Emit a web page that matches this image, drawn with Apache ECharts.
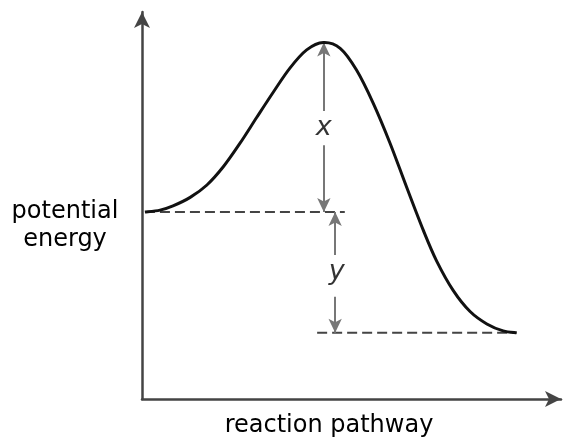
<!DOCTYPE html>
<html><head><meta charset="utf-8">
<script src="https://cdn.jsdelivr.net/npm/echarts@6/dist/echarts.min.js"></script>
<style>html,body{margin:0;padding:0;background:#fff}#c{width:563px;height:441px}</style>
</head><body><div id="c"></div>
<script>
// Reaction coordinate (0-100) and potential energy (0-100), arbitrary units
const pathway = [0.7, 4.3, 7.4, 11.5, 15.5, 19.4, 23.4, 27.4, 31.4, 35.3, 39.3, 43.3, 47.3, 51.2, 55.2, 59.2, 63.1, 67.1, 70.3, 74.3, 78.3, 82.3, 86.2, 89.4];
const energy  = [48.3, 48.8, 49.9, 52.1, 55.3, 60.0, 66.1, 72.8, 79.4, 85.5, 90.2, 92.1, 90.6, 85.0, 76.4, 66.1, 54.9, 43.7, 35.7, 28.0, 22.6, 19.4, 17.6, 17.1];
const reactantLevel = 48.3;
const productLevel = 17.1;
const peakLevel = 92.1;
const peakX = 43.4;
const yArrowX = 46.1;
const reactantDashEnd = 48.4;
const productDashStart = 41.8;
const labels = { x: 'x', y: 'y' };
const labelX = [43.4, 70.0];
const labelY = [46.5, 32.8];
const gapX = [65.6, 74.4];
const gapY = [26.4, 37.2];

const chart = echarts.init(document.getElementById('c'), null, {renderer: 'canvas'});
const axisColor = '#444';
const arrowColor = '#777';
const curve = pathway.map((x, i) => [x, energy[i]]);
const font = 'DejaVu Sans';

// Smooth Catmull-Rom path through the data, positioned by the chart's own axes
function renderCurve(params, api) {
  if (params.dataIndex !== 0) return null;
  const p = curve.map(d => api.coord(d));
  let d = 'M' + p[0][0] + ' ' + p[0][1];
  for (let i = 0; i < p.length - 1; i++) {
    const p0 = p[Math.max(i - 1, 0)], p1 = p[i], p2 = p[i + 1], p3 = p[Math.min(i + 2, p.length - 1)];
    const c1x = p1[0] + (p2[0] - p0[0]) / 6, c1y = p1[1] + (p2[1] - p0[1]) / 6;
    const c2x = p2[0] - (p3[0] - p1[0]) / 6, c2y = p2[1] - (p3[1] - p1[1]) / 6;
    d += ' C' + c1x + ' ' + c1y + ' ' + c2x + ' ' + c2y + ' ' + p2[0] + ' ' + p2[1];
  }
  return {type: 'path', shape: {pathData: d}, style: {fill: 'none', stroke: '#111', lineWidth: 3}};
}

chart.setOption({
  animation: false,
  grid: {left: 142, right: 2, top: 12, bottom: 42},
  xAxis: {
    type: 'value', min: 0, max: 100,
    axisLine: {show: true, lineStyle: {color: axisColor, width: 2.5}, symbol: ['none', 'arrow'], symbolSize: [12, 16]},
    axisTick: {show: false}, axisLabel: {show: false}, splitLine: {show: false}
  },
  yAxis: {
    type: 'value', min: 0, max: 100,
    axisLine: {show: true, lineStyle: {color: axisColor, width: 2.5}, symbol: ['none', 'arrow'], symbolSize: [12, 16]},
    axisTick: {show: false}, axisLabel: {show: false}, splitLine: {show: false}
  },
  series: [
    {
      type: 'custom', data: curve, renderItem: renderCurve, silent: true, z: 5,
      encode: {x: 0, y: 1}
    },
    {
      type: 'line', data: [[pathway[0], reactantLevel], [reactantDashEnd, reactantLevel]], showSymbol: false,
      lineStyle: {color: '#444', width: 2, type: [10, 5]}
    },
    {
      type: 'line', data: [[productDashStart, productLevel], [pathway[pathway.length - 1], productLevel]], showSymbol: false,
      lineStyle: {color: '#444', width: 2, type: [10, 5]}
    },
    {
      type: 'scatter', data: [], silent: true,
      markLine: {
        silent: true, symbol: ['none', 'arrow'], symbolSize: [10, 14],
        label: {show: false},
        lineStyle: {color: arrowColor, width: 2, type: 'solid'},
        data: [
          [{coord: [peakX, gapX[1]]}, {coord: [peakX, peakLevel]}],
          [{coord: [peakX, gapX[0]]}, {coord: [peakX, reactantLevel]}],
          [{coord: [yArrowX, gapY[1]]}, {coord: [yArrowX, reactantLevel]}],
          [{coord: [yArrowX, gapY[0]]}, {coord: [yArrowX, productLevel]}]
        ]
      }
    },
    {
      type: 'scatter', symbolSize: 1, silent: true, itemStyle: {color: 'rgba(0,0,0,0)'},
      data: [
        {value: labelX, label: {formatter: labels.x}},
        {value: labelY, label: {formatter: labels.y}}
      ],
      label: {show: true, position: 'inside', fontFamily: font, fontStyle: 'italic', fontSize: 27, color: '#000'}
    }
  ],
  graphic: [
    {type: 'text', x: 65, y: 226, style: {text: 'potential\nenergy', fontFamily: font, fontSize: 24, lineHeight: 28, fill: '#000', align: 'center', verticalAlign: 'middle'}},
    {type: 'text', x: 329, y: 426, style: {text: 'reaction pathway', fontFamily: font, fontSize: 24, fill: '#000', align: 'center', verticalAlign: 'middle'}}
  ]
});
</script></body></html>
